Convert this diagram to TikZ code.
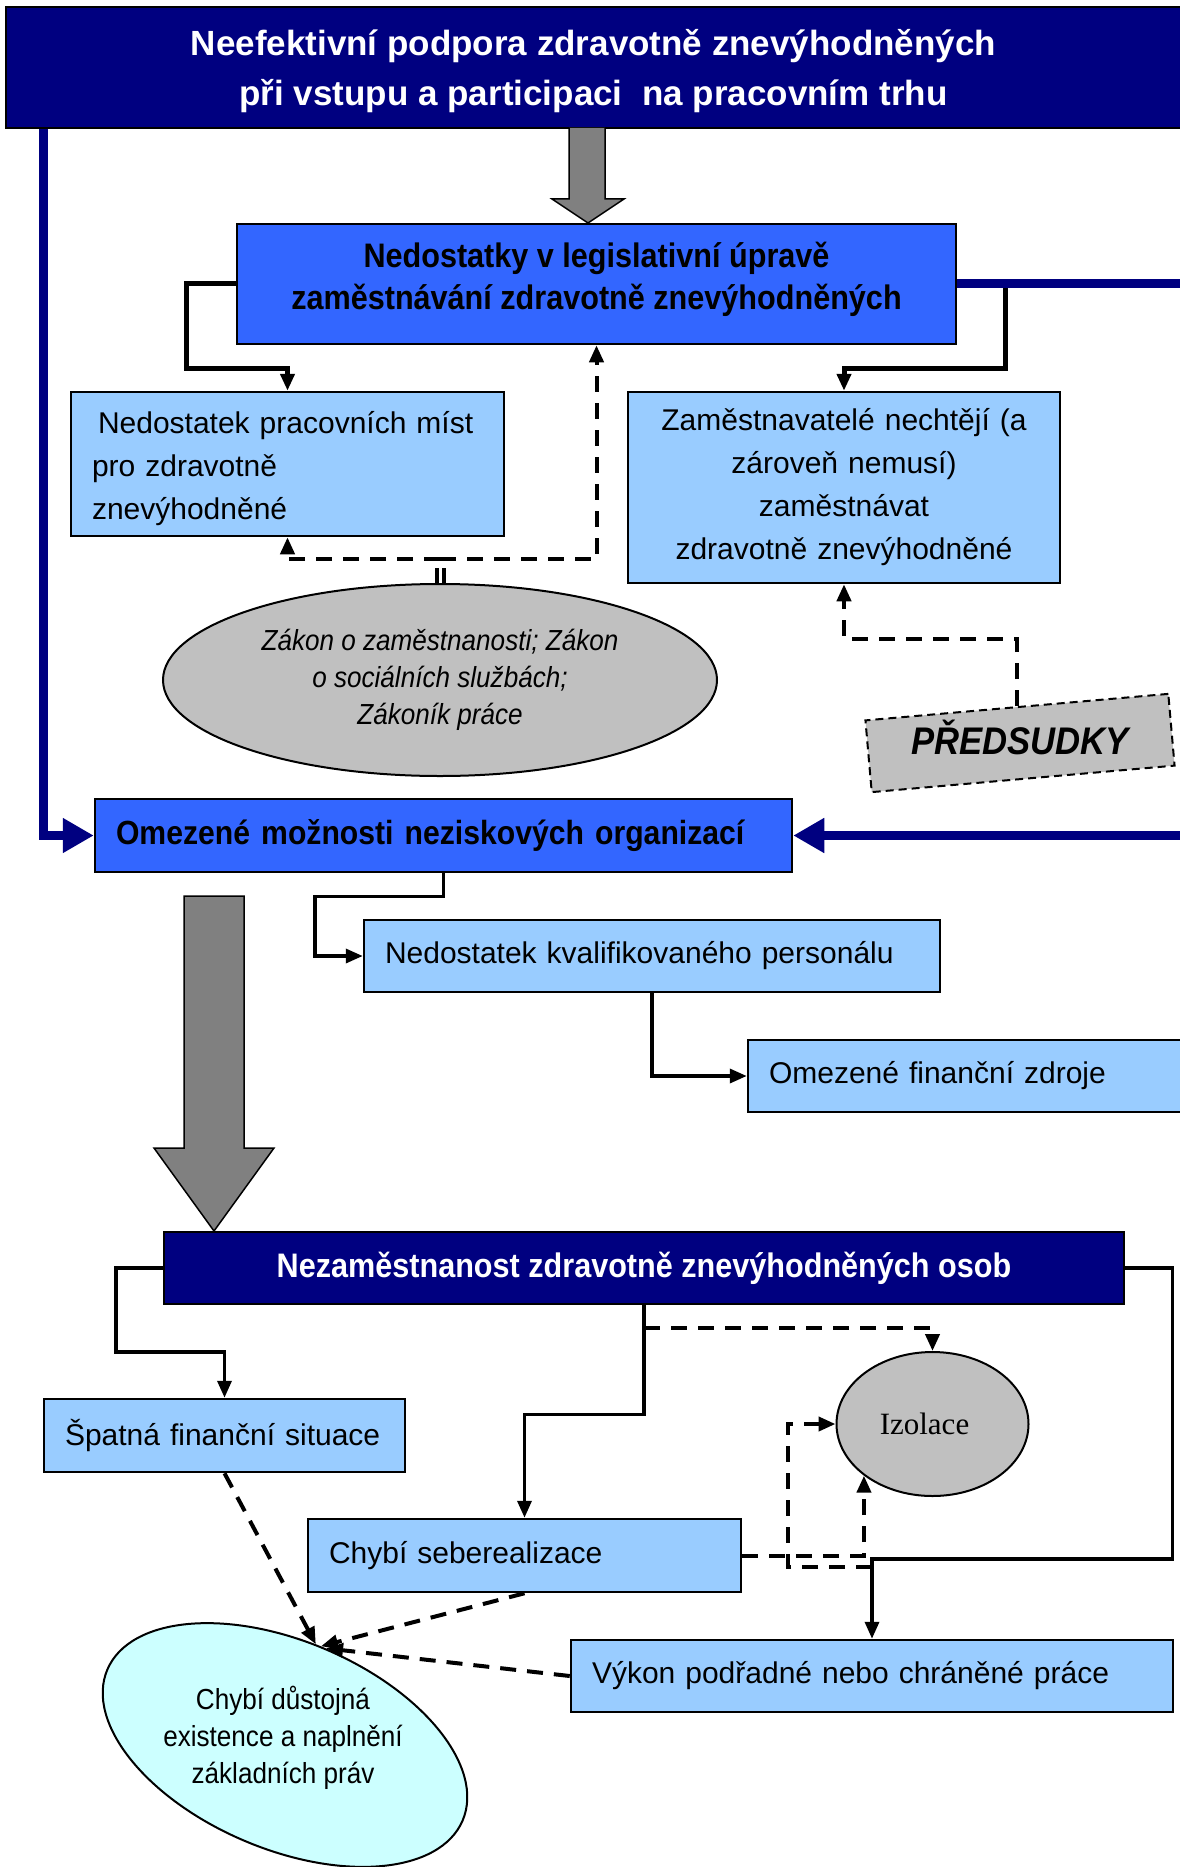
\documentclass[tikz,border=0pt]{standalone}
\usepackage{fontspec}
\setmainfont{Liberation Sans}
\newfontfamily\narrowfont{Liberation Sans}[FakeStretch=0.9]
\newfontfamily\timesfont{Liberation Serif}
\usepackage{tikz}
\usetikzlibrary{shapes,arrows.meta,positioning,calc}
\definecolor{zpnavy}{RGB}{0,0,128}
\definecolor{zpblue}{RGB}{51,102,255}
\definecolor{zplight}{RGB}{153,204,255}
\definecolor{zpgray}{RGB}{192,192,192}
\definecolor{zpdark}{RGB}{128,128,128}
\definecolor{zpcyan}{RGB}{204,255,255}

\begin{document}
\begin{tikzpicture}[x=1pt, y=-1pt,
    box/.style={draw=black, line width=2.5pt, fill=zplight, inner xsep=21pt, inner ysep=0pt, align=left, font=\fontsize{30}{43}\selectfont},
    hbox/.style={draw=black, line width=2.5pt, fill=zpblue, inner sep=0pt, align=center, font=\narrowfont\bfseries\fontsize{34}{42}\selectfont},
    conn/.style={line width=3.5pt, -{Triangle[length=17pt,width=14pt]}},
    dconn/.style={conn, line width=4pt, dash pattern=on 16pt off 11pt},
    navyline/.style={draw=zpnavy, line width=9pt, -{Triangle[length=31pt,width=33pt]}}]
    \useasboundingbox (0,0) rectangle (1179,1867);

    % Main problem
    \node[draw=black, line width=2.5pt, fill=zpnavy, text=white, minimum width=1175pt, minimum height=121pt, inner sep=0pt, text depth=-2.5pt, align=center, font=\bfseries\fontsize{35}{50}\selectfont] (top) at (593.5,67.5) {Neefektivní podpora zdravotně znevýhodněných\\při vstupu a participaci\ \ na pracovním trhu};
    \draw[fill=zpdark, line width=1.5pt] (569,128) -- (569,199) -- (552,199) -- (588,223) -- (624,199) -- (605,199) -- (605,128);

    % Legislation level
    \node[hbox, minimum width=719pt, minimum height=120pt, text depth=16pt] (b2) at (596.5,284) {Nedostatky v legislativní úpravě\\zaměstnávání zdravotně znevýhodněných};
    \node[box, text width=391pt, minimum height=144pt, text height=31pt] (b3) at (287.5,464) {\hspace*{6pt}Nedostatek pracovních míst\\pro zdravotně\\znevýhodněné};
    \node[box, text width=390pt, minimum height=191pt, align=center] (b4) at (844,487.5) {Zaměstnavatelé nechtějí (a\\zároveň nemusí)\\zaměstnávat\\zdravotně znevýhodněné};
    \node[ellipse, draw=black, line width=2pt, fill=zpgray, minimum width=554pt, minimum height=192pt, inner sep=0pt, align=center, font=\narrowfont\itshape\fontsize{29}{37}\selectfont] (law) at (440,680) {Zákon o zaměstnanosti; Zákon\\o sociálních službách;\\Zákoník práce};
    \node[draw=black, line width=2pt, dash pattern=on 8pt off 5pt, fill=zpgray, minimum width=304pt, minimum height=72pt, rotate=5] (pred) at (1020,743) {};
    \node[font=\narrowfont\bfseries\itshape\fontsize{38.5}{40}\selectfont] (predtxt) at ($(pred.center)+(0,-6)$) {PŘEDSUDKY};

    \draw[conn, line width=5pt] (b2.west) -- ++(-49,0) -- ++(0,84) -| (b3.north);
    \draw[conn, line width=5pt] ($(b2.east)+(48,0)$) -- ++(0,84) -| (b4.north);
    \draw[line width=4pt, double, double distance=3pt] (law.north) -- ++(0,-15);
    \coordinate (lawj) at ($(law.north)+(0,-24)$);
    \draw[dconn] (lawj) -| (b3.south);
    \draw[dconn] (lawj) -| (b2.south);
    \draw[dconn] (pred.north) |- ($(b4.south)+(0,55)$) -- (b4.south);

    % NGO level
    \node[hbox, minimum width=697pt, minimum height=73pt, text width=655pt, inner xsep=21pt, align=left, font=\narrowfont\bfseries\fontsize{33.5}{42}\selectfont] (b5) at (443.5,835.5) {Omezené možnosti neziskových organizací};
    \node[box, text width=534pt, minimum height=72pt] (b6) at (652,956) {Nedostatek kvalifikovaného personálu};
    \node[box, text width=395pt, minimum height=72pt] (b7) at (966.5,1076) {Omezené finanční zdroje};

    \coordinate (rgt) at (1195,284);
    \draw[navyline] ($(top.south west)+(39,0)$) |- (b5.west);
    \draw[navyline] (b2.east) -- (rgt) |- (b5.east);
    \draw[conn] (b5.south) -- ++(0,23) -| ($(b6.west)+(-48,0)$) -- (b6.west);
    \draw[conn] (b6.south) |- (b7.west);
    \draw[fill=zpdark, line width=1.5pt] (184,896) -- (244,896) -- (244,1148) -- (274,1148) -- (214,1231) -- (154,1148) -- (184,1148) -- cycle;

    % Consequences
    \node[hbox, fill=zpnavy, text=white, minimum width=960pt, minimum height=72pt] (b8) at (644,1268) {Nezaměstnanost zdravotně znevýhodněných osob};
    \node[box, text width=319pt, minimum height=73pt] (b9) at (224.5,1435.5) {Špatná finanční situace};
    \node[box, text width=391pt, minimum height=73pt] (b10) at (524.5,1555.5) {Chybí seberealizace};
    \node[ellipse, draw=black, line width=2pt, fill=zpgray, minimum width=192pt, minimum height=144pt, inner sep=0pt, font=\timesfont\fontsize{31}{35}\selectfont] (iso) at (932.5,1424) {Izolace\hspace*{16pt}};
    \node[box, text width=560pt, minimum height=72pt] (b11) at (872,1676) {Výkon podřadné nebo chráněné práce};
    \node[ellipse, draw=black, line width=2pt, fill=zpcyan, minimum width=386pt, minimum height=208pt, rotate=-23] (dig) at (285,1745) {};
    \node[align=center, font=\narrowfont\fontsize{29}{37}\selectfont] (digtxt) at (283,1738) {Chybí důstojná\\existence a naplnění\\základních práv};

    \draw[conn] (b8.west) -- ++(-47,0) -- ++(0,84) -| (b9.north);
    \draw[conn] (b8.south) -- ++(0,109) -| (b10.north);
    \draw[conn] (b8.east) -- ++(47,0) -- ++(0,291) -| (b11.north);
    \draw[dconn] ($(b8.south)+(0,23)$) -| (iso.north);
    \draw[dconn] (b10.east) -| (iso.217);
    \coordinate (vkj) at ($(b11.north)+(0,-72)$);
    \draw[dconn] (vkj) -- ++(-84,0) |- (iso.west);
    \draw[dconn] (b9.south) -- (dig.96);
    \draw[dconn] (b10.south) -- (dig.93);
    \draw[dconn] (b11.west) -- (dig.90);
\end{tikzpicture}
\end{document}
